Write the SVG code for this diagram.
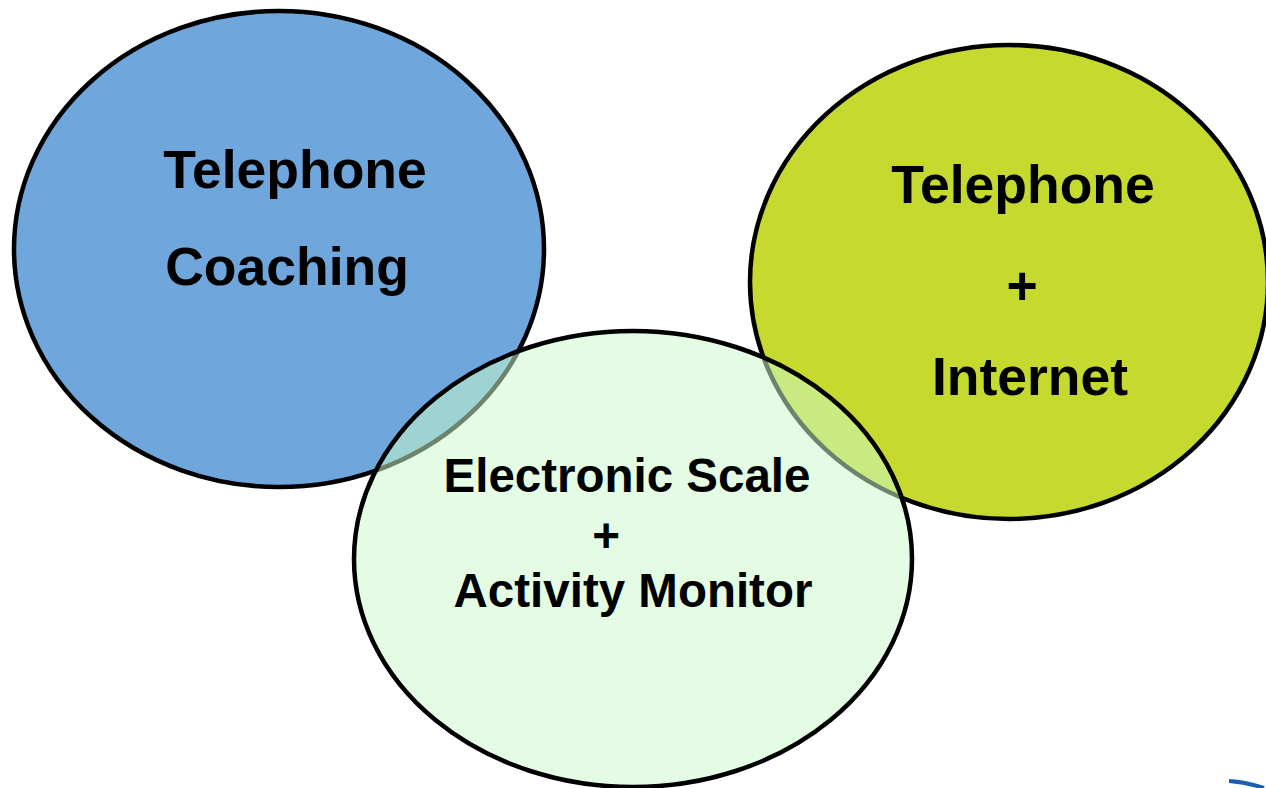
<svg xmlns="http://www.w3.org/2000/svg" width="1266" height="788" viewBox="0 0 1266 788">
<style>
.c{stroke:#000;stroke-width:4.5}
.t{font-family:"Liberation Sans",Arial,sans-serif;font-weight:bold;fill:#000;text-anchor:middle}
</style>
<rect width="1266" height="788" fill="#fff"/>
<g id="telephone-coaching">
<ellipse class="c" cx="279" cy="249" rx="265" ry="238" fill="#6FA6DC"/>
<text class="t" x="295" y="188" font-size="53.5">Telephone</text>
<text class="t" x="287" y="285" font-size="53.5">Coaching</text>
</g>
<g id="telephone-internet">
<ellipse class="c" cx="1009" cy="282" rx="259" ry="237" fill="#C6D92F"/>
<text class="t" x="1023" y="203" font-size="53.5">Telephone</text>
<text class="t" x="1022" y="304" font-size="53.5">+</text>
<text class="t" x="1030" y="395" font-size="53.5">Internet</text>
</g>
<g id="scale-monitor">
<ellipse class="c" cx="633" cy="559" rx="279" ry="228" fill="#CAF9CA" fill-opacity="0.53"/>
<text class="t" x="627" y="492" font-size="47.5">Electronic Scale</text>
<text class="t" x="606" y="552" font-size="47.5">+</text>
<text class="t" x="633" y="607" font-size="47.5">Activity Monitor</text>
</g>
<g id="connectors"></g>
<path d="M1229 781 Q1246 782 1264 788" fill="none" stroke="#1A5FB0" stroke-width="4"/>
</svg>
